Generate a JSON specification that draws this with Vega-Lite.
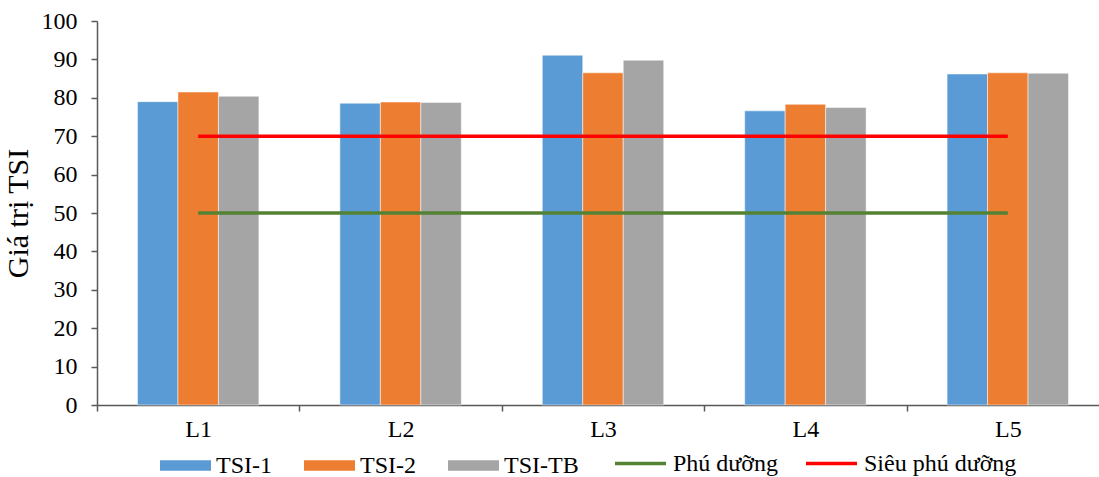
{
  "$schema": "https://vega.github.io/schema/vega-lite/v6.json",
  "autosize": "none",
  "padding": {"left": 97, "top": 21, "right": 0, "bottom": 72},
  "width": 1002,
  "height": 384,
  "datasets": {
    "bars": [
      {"loc": "L1", "series": "TSI-1", "value": 79.0},
      {"loc": "L1", "series": "TSI-2", "value": 81.5},
      {"loc": "L1", "series": "TSI-TB", "value": 80.4},
      {"loc": "L2", "series": "TSI-1", "value": 78.6},
      {"loc": "L2", "series": "TSI-2", "value": 78.9},
      {"loc": "L2", "series": "TSI-TB", "value": 78.8},
      {"loc": "L3", "series": "TSI-1", "value": 91.1},
      {"loc": "L3", "series": "TSI-2", "value": 86.5},
      {"loc": "L3", "series": "TSI-TB", "value": 89.8},
      {"loc": "L4", "series": "TSI-1", "value": 76.6},
      {"loc": "L4", "series": "TSI-2", "value": 78.3},
      {"loc": "L4", "series": "TSI-TB", "value": 77.5},
      {"loc": "L5", "series": "TSI-1", "value": 86.2},
      {"loc": "L5", "series": "TSI-2", "value": 86.5},
      {"loc": "L5", "series": "TSI-TB", "value": 86.4}
    ],
    "lines": [
      {"level": "Phú dưỡng", "value": 50, "from": "L1", "to": "L5"},
      {"level": "Siêu phú dưỡng", "value": 70, "from": "L1", "to": "L5"}
    ]
  },
  "config": {
    "view": {"stroke": null},
    "font": "Liberation Serif",
    "axis": {
      "labelFont": "Liberation Serif",
      "titleFont": "Liberation Serif",
      "labelColor": "#000000",
      "titleColor": "#000000",
      "domainColor": "#595959",
      "tickColor": "#595959",
      "domainWidth": 1.5,
      "tickWidth": 1.5,
      "grid": false
    },
    "axisX": {
      "labelFont": "Liberation Serif",
      "labelFontSize": 24,
      "labelAngle": 0,
      "tickSize": 6,
      "labelPadding": 6
    },
    "axisY": {
      "labelFont": "Liberation Serif",
      "labelFontSize": 24,
      "titleFontSize": 30,
      "titleFontWeight": "normal",
      "titlePadding": 8,
      "tickSize": 6,
      "labelPadding": 14,
      "labelOverlap": false
    },
    "legend": {
      "labelFont": "Liberation Serif",
      "labelFontSize": 24,
      "labelColor": "#000000",
      "padding": 0,
      "orient": "none",
      "direction": "horizontal",
      "title": null,
      "labelOffset": 5,
      "columnPadding": 32,
      "gridAlign": "none",
      "labelLimit": 300
    }
  },
  "encoding": {
    "y": {
      "field": "value",
      "type": "quantitative",
      "scale": {"domain": [0, 100], "nice": false},
      "axis": {
        "title": "Giá trị TSI",
        "titleFontSize": 30,
        "labelFontSize": 24,
        "labelFont": "Liberation Serif",
        "labelPadding": 14,
        "values": [0, 10, 20, 30, 40, 50, 60, 70, 80, 90, 100]
      }
    }
  },
  "layer": [
    {
      "data": {"name": "bars"},
      "mark": {"type": "bar", "stroke": "#ffffff", "strokeOpacity": 0.5, "strokeWidth": 1},
      "encoding": {
        "x": {
          "field": "loc",
          "type": "nominal",
          "scale": {"range": [0, 1012], "paddingInner": 0, "paddingOuter": 0},
          "axis": {"title": null, "tickBand": "extent", "labelFontSize": 24, "labelFont": "Liberation Serif"}
        },
        "xOffset": {"field": "series", "type": "nominal", "scale": {"paddingInner": 0, "paddingOuter": 1.1}},
        "color": {
          "field": "series",
          "type": "nominal",
          "scale": {"domain": ["TSI-1", "TSI-2", "TSI-TB"], "range": ["#5B9BD5", "#ED7D31", "#A5A5A5"]},
          "legend": {
            "legendX": 63,
            "legendY": 419,
            "labelFont": "Liberation Serif",
            "symbolType": "M-1,-0.206H1V0.206H-1Z",
            "symbolSize": 2601,
            "symbolStrokeWidth": 0
          }
        }
      }
    },
    {
      "data": {"name": "lines"},
      "mark": {"type": "rule", "strokeWidth": 3.5},
      "encoding": {
        "x": {"field": "from", "type": "nominal", "axis": {"title": null, "tickBand": "extent", "labelFontSize": 24, "labelFont": "Liberation Serif"}},
        "x2": {"field": "to"},
        "stroke": {
          "field": "level",
          "type": "nominal",
          "scale": {"domain": ["Phú dưỡng", "Siêu phú dưỡng"], "range": ["#548235", "#FF0000"]},
          "legend": {
            "legendX": 516,
            "legendY": 415,
            "labelFont": "Liberation Serif",
            "columnPadding": 20,
            "symbolType": "stroke",
            "symbolSize": 2601,
            "symbolStrokeWidth": 3.5
          }
        }
      }
    }
  ]
}
